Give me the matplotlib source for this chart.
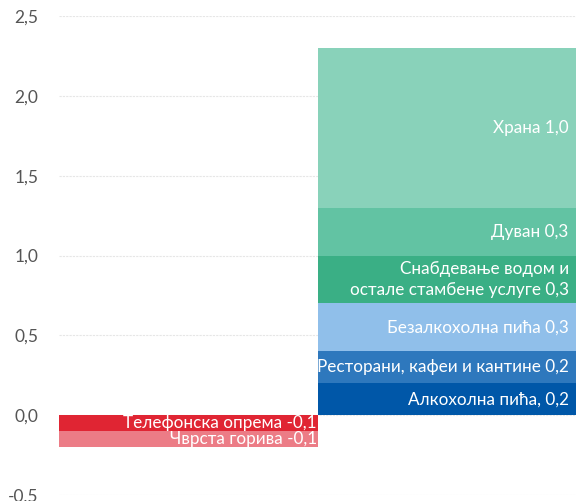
import numpy as np
import matplotlib.pyplot as plt
from matplotlib.ticker import FuncFormatter

plt.rcParams['font.family'] = ['Lato', 'DejaVu Sans']

# позитивни доприноси (од дна ка врху)
pos_labels = ['Алкохолна пића, 0,2', 'Ресторани, кафеи и кантине 0,2',
              'Безалкохолна пића 0,3', 'Снабдевање водом и\nостале стамбене услуге 0,3',
              'Дуван 0,3', 'Храна 1,0']
pos_values = [0.2, 0.2, 0.3, 0.3, 0.3, 1.0]
pos_colors = ['#0057a8', '#2e78bd', '#90bfea', '#3aaf85', '#62c3a3', '#89d2ba']

# негативни доприноси (од нуле надоле)
neg_labels = ['Телефонска опрема -0,1', 'Чврста горива -0,1']
neg_values = [-0.1, -0.1]
neg_colors = ['#e02533', '#ec7c86']

fig = plt.figure(figsize=(5.84, 5.01), dpi=100)
ax = fig.add_axes([0.101, 0.012, 0.886, 0.956])

fs = 12.3
bottom = 0.0
for lab, v, c in zip(pos_labels, pos_values, pos_colors):
    ax.bar(1, v, width=1.0, bottom=bottom, color=c, zorder=2)
    ax.text(1.47, bottom + v / 2, lab, ha='right', va='center', color='white',
            fontsize=fs, linespacing=1.45, zorder=3)
    bottom += v

bottom = 0.0
for lab, v, c in zip(neg_labels, neg_values, neg_colors):
    ax.bar(0, v, width=1.0, bottom=bottom, color=c, zorder=2)
    ax.text(0.497, bottom + v / 2, lab, ha='right', va='center', color='white',
            fontsize=fs, zorder=3)
    bottom += v

ax.set_xlim(-0.5, 1.5)
ax.set_ylim(-0.5, 2.5)
ax.set_yticks(np.arange(-0.5, 2.51, 0.5))
ax.yaxis.set_major_formatter(FuncFormatter(lambda y, _: f'{y:.1f}'.replace('.', ',')))
ax.set_xticks([])
ax.tick_params(axis='y', length=0, pad=15, labelsize=12.5, labelcolor='#555555')
ax.grid(axis='y', color='#e6e6e6', linestyle=(0, (2, 1)), linewidth=0.8, zorder=0)
for s in ax.spines.values():
    s.set_visible(False)

fig.savefig('out.png', dpi=100)
